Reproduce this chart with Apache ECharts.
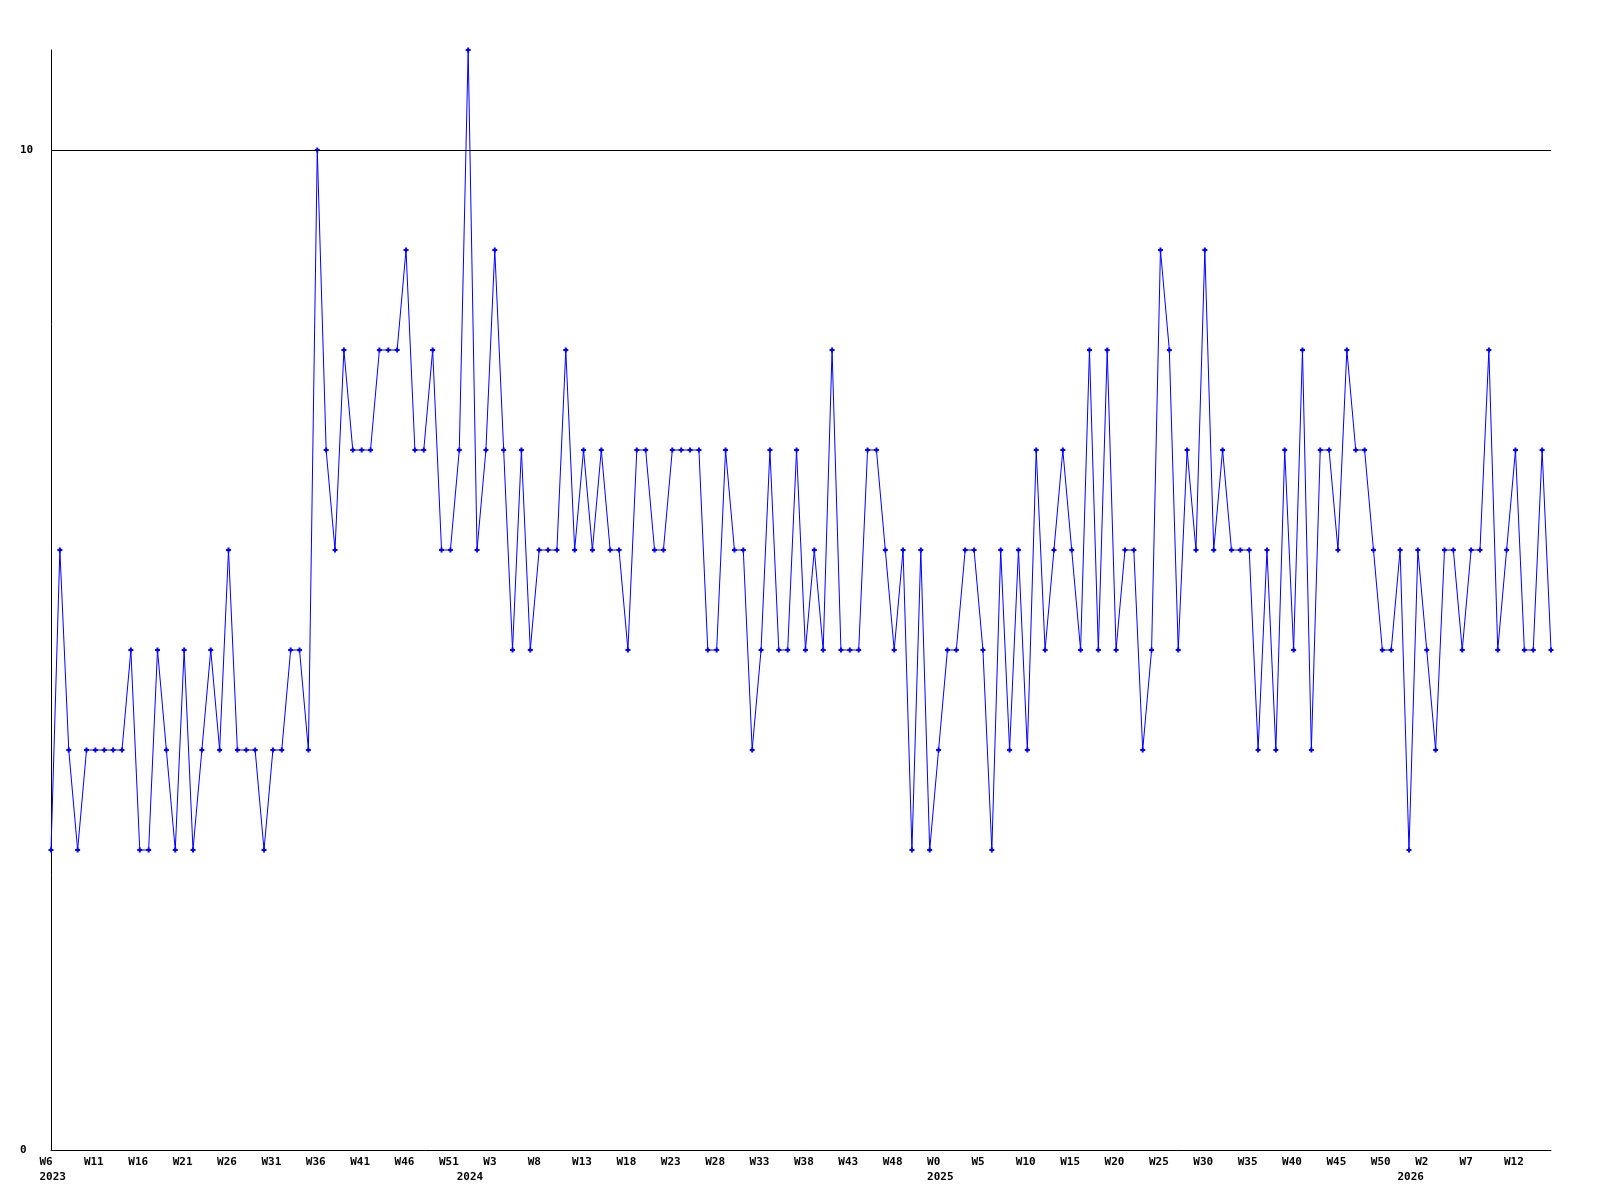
<!DOCTYPE html>
<html>
<head>
<meta charset="utf-8">
<script src="https://cdn.jsdelivr.net/npm/echarts@6/dist/echarts.min.js"></script>
<style>
html,body{margin:0;padding:0;background:#fff;}
#chart{width:1600px;height:1200px;}
</style>
</head>
<body>
<div id="chart"></div>
<script>
// Week buckets per year (Sunday-based week numbers)
const years = [2023, 2024, 2025, 2026];
const firstWeek = [6, 0, 0, 0];
const lastWeek = [52, 52, 52, 16];

// Weekly values, one per bucket, in order
const values = [
  3,6,4,3,4,4,4,4,4,5,
  3,3,5,4,3,5,3,4,5,4,
  6,4,4,4,3,4,4,5,5,4,
  10,7,6,8,7,7,7,8,8,8,
  9,7,7,8,6,6,7,11,6,7,
  9,7,5,7,5,6,6,6,8,6,
  7,6,7,6,6,5,7,7,6,6,
  7,7,7,7,5,5,7,6,6,4,
  5,7,5,5,7,5,6,5,8,5,
  5,5,7,7,6,5,6,3,6,3,
  4,5,5,6,6,5,3,6,4,6,
  4,7,5,6,7,6,5,8,5,8,
  5,6,6,4,5,9,8,5,7,6,
  9,6,7,6,6,6,4,6,4,7,
  5,8,4,7,7,6,8,7,7,6,
  5,5,6,3,6,5,4,6,6,5,
  6,6,8,5,6,7,5,5,7,5
];

// y-axis labelled ticks
const yTicks = [0, 10];
const refLine = 10;

// Build categories (labels only)
const categories = [];
const weekOf = [];
const yearStart = {};
years.forEach((y, k) => {
  for (let w = firstWeek[k]; w <= lastWeek[k]; w++) {
    if (w === firstWeek[k]) yearStart[categories.length] = String(y);
    categories.push(y + '-W' + w);
    weekOf.push('W' + w);
  }
});

const FONT = 'DejaVu Sans Mono';
const labelBase = {
  fontFamily: FONT, fontWeight: 'bold', fontSize: 11, color: '#000'
};

const chart = echarts.init(document.getElementById('chart'), null, {renderer: 'canvas'});
chart.setOption({
  animation: false,
  backgroundColor: '#ffffff',
  grid: {left: 51, right: 49, top: 50, bottom: 50, containLabel: false},
  xAxis: [
    {
      type: 'category',
      data: categories,
      boundaryGap: false,
      axisLine: {show: true, lineStyle: {color: '#000', width: 1}},
      axisTick: {show: false},
      splitLine: {show: false},
      axisLabel: Object.assign({}, labelBase, {
        interval: (i) => i % 5 === 0,
        margin: 7,
        align: 'center',
        formatter: (v, i) => '{t|' + weekOf[i] + '}',
        rich: {t: Object.assign({}, labelBase, {width: 23, align: 'left'})}
      })
    },
    {
      type: 'category',
      data: categories,
      boundaryGap: false,
      position: 'bottom',
      offset: 15,
      axisLine: {show: false},
      axisTick: {show: false},
      splitLine: {show: false},
      axisLabel: Object.assign({}, labelBase, {
        interval: (i) => yearStart[i] !== undefined,
        margin: 7,
        align: 'center',
        formatter: (v, i) => '{t|' + (yearStart[i] || '') + '}',
        rich: {t: Object.assign({}, labelBase, {width: 23, align: 'left'})}
      })
    }
  ],
  yAxis: {
    type: 'value',
    min: yTicks[0],
    max: 11,
    interval: yTicks[1] - yTicks[0],
    axisLine: {show: true, lineStyle: {color: '#000', width: 1}},
    axisTick: {show: false},
    splitLine: {show: false},
    axisLabel: Object.assign({}, labelBase, {
      showMaxLabel: false,
      align: 'left',
      margin: 31
    })
  },
  series: [{
    type: 'line',
    xAxisIndex: 0,
    data: values,
    symbol: 'path://M1.5,0H3.5V1.5H5V3.5H3.5V5H1.5V3.5H0V1.5H1.5Z',
    symbolSize: 5,
    showAllSymbol: true,
    itemStyle: {color: '#0000ff'},
    lineStyle: {color: '#0000ff', width: 1},
    markLine: {
      silent: true,
      symbol: ['none', 'none'],
      label: {show: false},
      lineStyle: {color: '#000', width: 1, type: 'solid'},
      data: [{yAxis: refLine}]
    },
    z: 3
  }]
});
</script>
</body>
</html>
